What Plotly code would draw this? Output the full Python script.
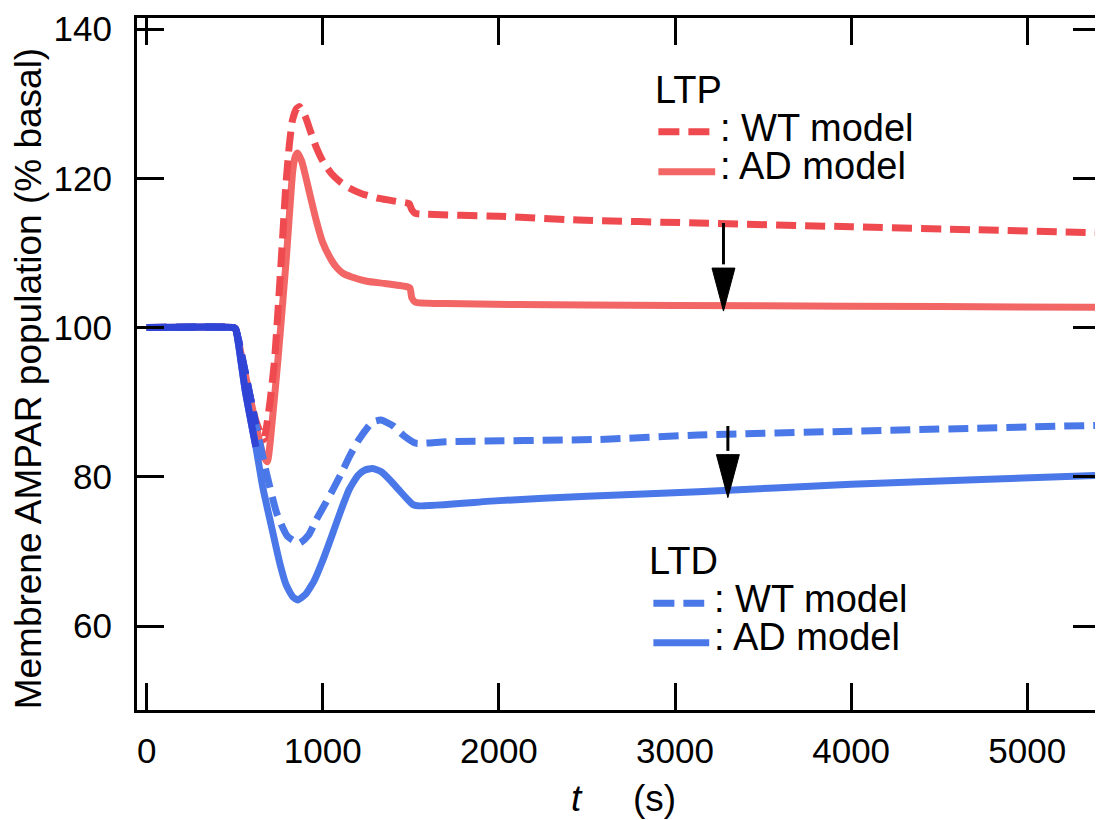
import plotly.graph_objects as go

# ---------------- data ----------------
ltp_wt_t = [0, 490, 505, 540, 580, 620, 665, 700, 726, 764, 790, 811, 828, 850, 868, 900, 930, 962,
            1000, 1050, 1100, 1150, 1225, 1320, 1415, 1490, 1505, 1525, 1560, 2000, 2450, 3130, 4000,
            4700, 5413]
ltp_wt_v = [100, 100, 99.8, 96, 91.5, 87.5, 85, 90, 95.6, 109, 119, 124.7, 127.8, 129.3, 129.6, 128.3,
            126.3, 124.2, 122.3, 120.6, 119.5, 118.7, 117.9, 117.3, 116.9, 116.6, 115.8, 115.3, 115.2,
            114.9, 114.4, 114.0, 113.5, 113.1, 112.7]

ltp_ad_t = [0, 490, 505, 540, 580, 620, 660, 685, 715, 745, 792, 830, 845, 857, 880, 900, 925, 960,
            998, 1050, 1080, 1112, 1160, 1250, 1350, 1470, 1495, 1505, 1525, 1700, 2500, 3500, 4500, 5413]
ltp_ad_v = [100, 100, 99.8, 96, 91.5, 87, 83, 82, 88, 95.6, 109, 121.1, 123, 123.4, 122.3, 120.5, 118.0,
            114.6, 111.5, 109.0, 108.0, 107.3, 106.8, 106.2, 105.9, 105.5, 105.3, 104.0, 103.4, 103.2,
            103.0, 102.9, 102.8, 102.7]

ltd_wt_t = [0, 490, 505, 520, 560, 620, 680, 740, 800, 868, 920, 962, 1000, 1056, 1100, 1151, 1200,
            1280, 1330, 1400, 1460, 1528, 1700, 2566, 3132, 4000, 5413]
ltd_wt_v = [100, 100, 99.8, 98.5, 94, 87, 80.5, 75, 72, 71.1, 72.2, 74.2, 75.8, 78.2, 80.2, 82.7, 84.8,
            87.3, 87.6, 86.8, 85.5, 84.5, 84.7, 85.0, 85.6, 86.1, 86.9]

ltd_ad_t = [0, 490, 505, 520, 560, 620, 660, 707, 755, 792, 830, 858, 900, 950, 1000, 1050, 1100,
            1150, 1200, 1240, 1283, 1330, 1380, 1430, 1480, 1510, 1540, 2000, 2500, 3132, 4000, 4700,
            5413]
ltd_ad_v = [100, 100, 99.8, 98, 91.5, 84, 78.5, 73.5, 68.5, 65.5, 63.9, 63.5, 64.2, 66.0, 68.8, 72.0,
            75.3, 78.3, 80.2, 80.9, 81.1, 80.7, 79.6, 78.3, 77.0, 76.3, 76.1, 76.8, 77.4, 78.0, 79.0,
            79.6, 80.2]

x_ticks = [0, 1000, 2000, 3000, 4000, 5000]
y_ticks = [60, 80, 100, 120, 140]

arrow_t = [3275, 3300]
arrow_from = [114.0, 86.8]
arrow_to = [102.2, 77.2]

# ---------------- styling / layout ----------------
OFF = 8                      # page body margin
W, H = 1103 - OFF, 820 - OFF
# plot area in screen pixels
PL, PR, PT, PB = 137, 1103, 18, 710
X0, X1 = (PL - 146.7) / 0.17667, (PR - 146.7) / 0.17667
Y1, Y0 = 100 + (327.5 - PT) / 7.4625, 100 - (PB - 327.5) / 7.4625
FONT = "Liberation Sans, Arial, Helvetica, sans-serif"
FS_TICK = 35
FS_LEG = 38
FS_TITLE = 37

RED_D = "#ef4a4f"
RED_S = "#f26666"
BLUE = "#4a78e8"
BLUE_DK = "#3044d6"
LW = 7
DASH = "20px,9px"


def px(x):
    return (x - PL) / (PR - PL)


def py(y):
    return (PB - y) / (PB - PT)


fig = go.Figure()

series = [
    (ltp_ad_t, ltp_ad_v, RED_S, "solid"),
    (ltp_wt_t, ltp_wt_v, RED_D, DASH),
    (ltd_ad_t, ltd_ad_v, BLUE, "solid"),
    (ltd_wt_t, ltd_wt_v, BLUE, DASH),
]
for t, v, c, d in series:
    fig.add_trace(go.Scatter(x=t, y=v, mode="lines", showlegend=False, hoverinfo="skip",
                             line=dict(color=c, width=LW, dash=d, shape="spline", smoothing=0.5)))

# darker overlap of the common initial segment
for t, v, d in [(ltd_ad_t, ltd_ad_v, "solid"), (ltd_wt_t, ltd_wt_v, DASH)]:
    k = [i for i, tt in enumerate(t) if tt <= 640]
    fig.add_trace(go.Scatter(x=[t[i] for i in k], y=[v[i] for i in k], mode="lines", showlegend=False,
                             hoverinfo="skip",
                             line=dict(color=BLUE_DK, width=LW, dash=d, shape="spline", smoothing=0.5)))

# arrows
px_per_t = (PR - PL) / (X1 - X0)
px_per_v = (PB - PT) / (Y1 - Y0)
head_len = 43 / px_per_v
head_hw = 11.5 / px_per_t
shapes = []
for t, a, b in zip(arrow_t, arrow_from, arrow_to):
    base = b + head_len
    shapes.append(dict(type="line", xref="x", yref="y", x0=t, x1=t, y0=a, y1=base + 0.5,
                       line=dict(color="black", width=3)))
    shapes.append(dict(type="path", xref="x", yref="y",
                       path=f"M{t - head_hw},{base} L{t + head_hw},{base} L{t},{b} Z",
                       fillcolor="black", line=dict(color="black", width=1)))

# manual legends (screen pixel positions)
legend_rows = [
    (660, 712, 131.7, RED_D, "21px,9px"),
    (660, 717, 171.7, RED_S, "solid"),
    (655, 706, 603.3, BLUE, "21px,9px"),
    (655, 711, 642.7, BLUE, "solid"),
]
for x0, x1, y, c, d in legend_rows:
    shapes.append(dict(type="line", xref="paper", yref="paper", x0=px(x0), x1=px(x1), y0=py(y), y1=py(y),
                       line=dict(color=c, width=LW, dash=d)))

annotations = []
texts = [
    ("LTP", 655, 90),
    (": WT model", 720, 128),
    (": AD model", 720, 166),
    ("LTD", 649, 561),
    (": WT model", 714, 599),
    (": AD model", 714, 637),
]
for s, x, y in texts:
    annotations.append(dict(text=s, x=px(x), y=py(y), xref="paper", yref="paper", xanchor="left",
                            yanchor="middle", showarrow=False,
                            font=dict(size=FS_LEG, color="black", family=FONT)))

annotations.append(dict(text="Membrene AMPAR population (% basal)", textangle=-90, x=px(28), y=py(378),
                        xref="paper", yref="paper", xanchor="center", yanchor="middle", showarrow=False,
                        font=dict(size=FS_TITLE, color="black", family=FONT)))
annotations.append(dict(text="<i>t</i>", x=px(578), y=py(798), xref="paper", yref="paper",
                        xanchor="center", yanchor="middle", showarrow=False,
                        font=dict(size=FS_TITLE, color="black", family=FONT)))
annotations.append(dict(text="(s)", x=px(656), y=py(798), xref="paper", yref="paper",
                        xanchor="center", yanchor="middle", showarrow=False,
                        font=dict(size=FS_TITLE, color="black", family=FONT)))

axis_common = dict(showline=True, linewidth=3, linecolor="black", mirror="ticks", ticks="inside",
                   ticklen=27, tickwidth=3, tickcolor="black", showgrid=False, zeroline=False,
                   tickfont=dict(size=FS_TICK, color="black", family=FONT))

fig.update_layout(
    width=W, height=H,
    margin=dict(l=PL - OFF, r=0, t=PT - OFF, b=H - (PB - OFF), pad=0),
    paper_bgcolor="white", plot_bgcolor="white",
    xaxis=dict(range=[X0, X1], tickvals=x_ticks, ticktext=[str(v) for v in x_ticks],
               ticklabelstandoff=8, **axis_common),
    yaxis=dict(range=[Y0, Y1], tickvals=y_ticks, ticktext=[str(v) for v in y_ticks],
               ticklabelstandoff=15, **axis_common),
    shapes=shapes,
    annotations=annotations,
)

fig.write_html("out.html")
